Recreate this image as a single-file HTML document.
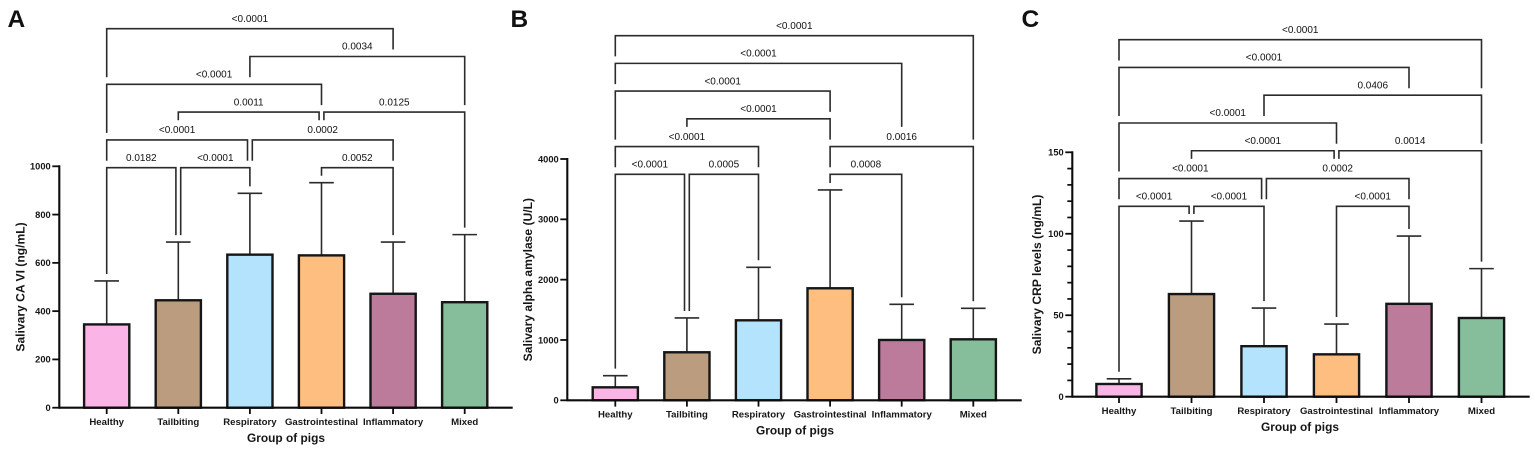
<!DOCTYPE html>
<html lang="en">
<head>
<meta charset="utf-8">
<title>Salivary biomarkers by group of pigs</title>
<style>
html,body{margin:0;padding:0;background:#fff;width:1535px;height:450px;overflow:hidden}
svg{display:block;font-family:"Liberation Sans",Arial,sans-serif;filter:blur(0.3px)}
</style>
</head>
<body>
<svg id="figure" xmlns="http://www.w3.org/2000/svg" width="1535" height="450" viewBox="0 0 1535 450"></svg>
<script>
// Shared data
const categories = ['Healthy', 'Tailbiting', 'Respiratory', 'Gastrointestinal', 'Inflammatory', 'Mixed'];

// Panel A: CA VI
const caviMeans = [345, 445, 634, 631, 472, 437];
const caviErrorTops = [525, 686, 888, 932, 686, 717];
const caviTicks = [0, 200, 400, 600, 800, 1000];
// from, to, level, p-value, left stop, right stop, left nudge, right nudge
const caviBrackets = [
  [0, 1, 0, '0.0182', 'e', 'e', 0, -1],
  [1, 2, 0, '<0.0001', 'e', 'e', 1, 0],
  [3, 4, 0, '0.0052', 'e', 'e', 0, 0],
  [0, 2, 1, '<0.0001', 'b0', 'b0', 0, -1],
  [2, 4, 1, '0.0002', 'b0', 'b0', 1, 0],
  [1, 3, 2, '0.0011', 't1', 't1', 0, -1],
  [3, 5, 2, '0.0125', 't1', 'e', 1, 0],
  [0, 3, 3, '<0.0001', 'b1', 'b2', 0, 0],
  [2, 5, 4, '0.0034', 'b3', 'b2', 0, 0],
  [0, 4, 5, '<0.0001', 'b3', 'b4', 0, 0]
];

// Panel B: alpha amylase
const amylaseMeans = [215, 796, 1326, 1857, 1000, 1011];
const amylaseErrorTops = [408, 1365, 2205, 3487, 1592, 1525];
const amylaseTicks = [0, 1000, 2000, 3000, 4000];
const amylaseBrackets = [
  [0, 1, 0, '<0.0001', 'e', 'e', 0, -1],
  [1, 2, 0, '0.0005', 'e', 'e', 1, 0],
  [3, 4, 0, '0.0008', 'e', 'e', 0, 0],
  [0, 2, 1, '<0.0001', 'b0', 'b0', 0, 0],
  [3, 5, 1, '0.0016', 'b0', 'e', 0, 0],
  [1, 3, 2, '<0.0001', 't1', 'b1', 0, 0],
  [0, 3, 3, '<0.0001', 'b1', 'b2', 0, 0],
  [0, 4, 4, '<0.0001', 'b3', 't1', 0, 0],
  [0, 5, 5, '<0.0001', 'b4', 'b1', 0, 0]
];

// Panel C: CRP
const crpMeans = [7.8, 63, 31, 26, 57, 48.3];
const crpErrorTops = [11, 107.8, 54.4, 44.6, 98.6, 78.6];
const crpTicks = [0, 50, 100, 150];
const crpMinorTicks = [10, 20, 30, 40, 60, 70, 80, 90, 110, 120, 130, 140];
const crpBrackets = [
  [0, 1, 0, '<0.0001', 'e', 'e', 0, -1],
  [1, 2, 0, '<0.0001', 'e', 'e', 1, 0],
  [3, 4, 0, '<0.0001', 'e', 'e', 0, 0],
  [0, 2, 1, '<0.0001', 'b0', 'b0', 0, -1],
  [2, 4, 1, '0.0002', 'b0', 'b0', 1, 0],
  [1, 3, 2, '<0.0001', 't1', 't1', 0, -1],
  [3, 5, 2, '0.0014', 't1', 'e', 1, 0],
  [0, 3, 3, '<0.0001', 'b1', 'b2', 0, 0],
  [2, 5, 4, '0.0406', 'b3', 'b2', 0, 0],
  [0, 4, 5, '<0.0001', 'b3', 'b4', 0, 0],
  [0, 5, 6, '<0.0001', 'b5', 'b4', 0, 0]
];

const barColors = ['#FBB4E6', '#BC9C7E', '#B3E3FD', '#FDBE80', '#BD7B9C', '#86BD9A'];
const INK = '#161616';
const LINE = '#2b2b2b';
const NS = 'http://www.w3.org/2000/svg';
const figure = document.getElementById('figure');

function make(parent, tag, props, text) {
  const el = document.createElementNS(NS, tag);
  for (const k in props) el.setAttribute(k, props[k]);
  if (text !== undefined) el.textContent = text;
  parent.appendChild(el);
  return el;
}

function slug(s) {
  return s.toLowerCase().replace(/[^a-z0-9]+/g, '-');
}

function drawPanel(cfg) {
  const g = make(figure, 'g', {});
  
  

  const maxTick = cfg.ticks[cfg.ticks.length - 1];
  const yScale = v => cfg.yZero - (v / maxTick) * (cfg.yZero - cfg.yTop);
  const xScale = i => cfg.firstX + i * cfg.stepX;
  const levelY = k => cfg.levelBase - k * cfg.levelStep;

  const letter = make(g, 'text', {x: cfg.letterX, y: 27, 'font-size': 24.5, 'font-weight': 700, fill: '#111'}, cfg.letter);
  
  

  // error bars
  cfg.errorTops.forEach((v, i) => {
    const top = yScale(v);
    const stem = make(g, 'line', {x1: xScale(i), x2: xScale(i), y1: yScale(cfg.means[i]), y2: top, stroke: LINE, 'stroke-width': 1.6});
    
    
    const cap = make(g, 'line', {x1: xScale(i) - 12.3, x2: xScale(i) + 12.3, y1: top, y2: top, stroke: LINE, 'stroke-width': 1.6});
    
    
  });

  // bars
  cfg.means.forEach((v, i) => {
    const bar = make(g, 'rect', {
      x: xScale(i) - 22.6, y: yScale(v), width: 45.2, height: cfg.yZero - yScale(v),
      fill: barColors[i], stroke: INK, 'stroke-width': 2.4
    });
    
    
  });

  // axes
  const yAxis = make(g, 'line', {x1: cfg.axisX, x2: cfg.axisX, y1: cfg.yTop - 1, y2: cfg.yZero + 1, stroke: '#0c0c0c', 'stroke-width': 2.1});
  
  
  const xAxis = make(g, 'line', {x1: cfg.axisX, x2: cfg.axisEnd, y1: cfg.yZero, y2: cfg.yZero, stroke: '#0c0c0c', 'stroke-width': 2.1});
  
  

  cfg.ticks.forEach(t => {
    const y = yScale(t);
    const tick = make(g, 'line', {x1: cfg.axisX - 7, x2: cfg.axisX, y1: y, y2: y, stroke: '#0c0c0c', 'stroke-width': 1.8});
    
    
    const label = make(g, 'text', {x: cfg.axisX - 8.6, y: y + 3.3, 'font-size': 9.3, 'font-weight': 700, 'text-anchor': 'end', fill: INK}, String(t));
    
    
  });

  (cfg.minorTicks || []).forEach(t => {
    const y = yScale(t);
    const tick = make(g, 'line', {x1: cfg.axisX - 5, x2: cfg.axisX, y1: y, y2: y, stroke: '#0c0c0c', 'stroke-width': 1.7});
    
    
  });

  categories.forEach((c, i) => {
    const tick = make(g, 'line', {x1: xScale(i), x2: xScale(i), y1: cfg.yZero, y2: cfg.yZero + 6.3, stroke: '#0c0c0c', 'stroke-width': 1.8});
    
    
    const label = make(g, 'text', {x: xScale(i), y: cfg.yZero + 17.4, 'font-size': 9.6, 'font-weight': 700, 'text-anchor': 'middle', fill: INK}, c);
    
    
  });

  const xTitle = make(g, 'text', {x: cfg.xTitleX, y: cfg.yZero + 34.4, 'font-size': 11.9, 'font-weight': 700, 'text-anchor': 'middle', fill: INK}, 'Group of pigs');
  
  

  const midY = (cfg.yZero + cfg.yTop) / 2;
  const yTitle = make(g, 'text', {
    x: cfg.yTitleX, y: midY, 'font-size': 12.1, 'font-weight': 700, 'text-anchor': 'middle', fill: INK,
    transform: 'rotate(-90 ' + cfg.yTitleX + ' ' + midY + ')'
  }, cfg.yTitle);
  
  

  // significance brackets
  const stopY = (spec, i) => {
    if (spec === 'e') return yScale(cfg.errorTops[i]) - 7;
    const k = Number(spec.slice(1));
    return spec[0] === 'b' ? levelY(k) - 7 : levelY(k) - 19.7;
  };

  cfg.brackets.forEach(b => {
    const [from, to, level, p, leftStop, rightStop, leftNudge, rightNudge] = b;
    const x1 = xScale(from) + leftNudge * 2.4;
    const x2 = xScale(to) + rightNudge * 2.4;
    const y = levelY(level);
    const path = make(g, 'path', {
      d: 'M' + x1 + ' ' + stopY(leftStop, from) + 'V' + y + 'H' + x2 + 'V' + stopY(rightStop, to),
      fill: 'none', stroke: LINE, 'stroke-width': 1.6
    });
    
    
    const label = make(g, 'text', {x: (x1 + x2) / 2, y: y - 6.8, 'font-size': 10, 'text-anchor': 'middle', fill: '#111'}, p);
    
    
  });
}

drawPanel({
  letter: 'A', letterX: 7.5, yTitle: 'Salivary CA VI (ng/mL)',
  means: caviMeans, errorTops: caviErrorTops, ticks: caviTicks, brackets: caviBrackets,
  axisX: 59.3, axisEnd: 512.7, yZero: 407.7, yTop: 166.3,
  firstX: 106.7, stepX: 71.6, levelBase: 167.7, levelStep: 27.8,
  xTitleX: 286, yTitleX: 24.5
});
drawPanel({
  letter: 'B', letterX: 510.5, yTitle: 'Salivary alpha amylase (U/L)',
  means: amylaseMeans, errorTops: amylaseErrorTops, ticks: amylaseTicks, brackets: amylaseBrackets,
  axisX: 567.3, axisEnd: 1021.7, yZero: 400.3, yTop: 159,
  firstX: 615.3, stepX: 71.6, levelBase: 174.3, levelStep: 27.73,
  xTitleX: 795, yTitleX: 532
});
drawPanel({
  letter: 'C', letterX: 1021.5, yTitle: 'Salivary CRP levels (ng/mL)',
  means: crpMeans, errorTops: crpErrorTops, ticks: crpTicks, minorTicks: crpMinorTicks, brackets: crpBrackets,
  axisX: 1072.3, axisEnd: 1529.7, yZero: 396.7, yTop: 152.3,
  firstX: 1119, stepX: 72.5, levelBase: 206.3, levelStep: 27.77,
  xTitleX: 1300, yTitleX: 1041
});
</script>
</body>
</html>
